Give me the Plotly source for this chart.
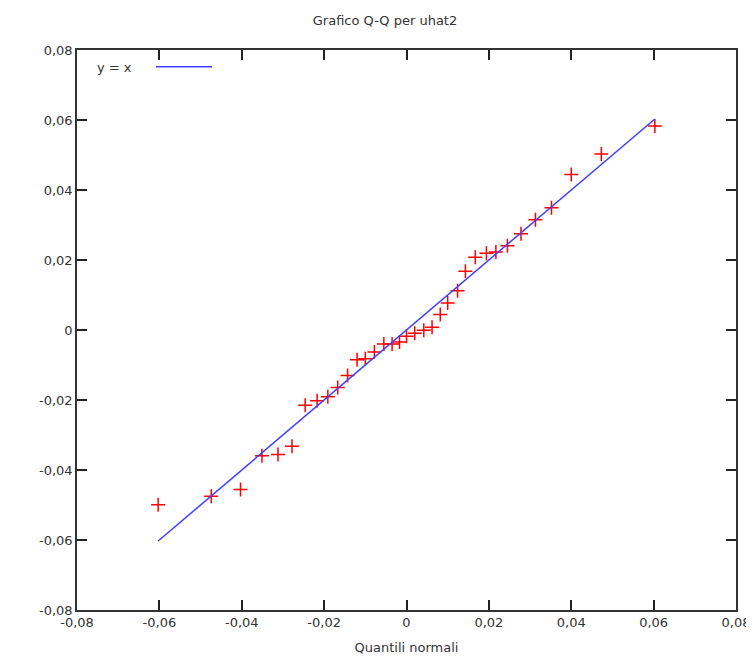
import plotly.graph_objects as go

# Normal quantiles (x) and sorted residual quantiles of uhat2 (y)
normal_quantiles = [
    -0.0603, -0.0474, -0.0403, -0.0351, -0.0312, -0.0278, -0.0246, -0.0217, -0.0191,
    -0.0167, -0.0143, -0.0120, -0.0100, -0.0078, -0.0055, -0.0035, -0.0017, 0.0,
    0.0020, 0.0042, 0.0062, 0.0082, 0.0100, 0.0124, 0.0143, 0.0167, 0.0194, 0.0217,
    0.0245, 0.0278, 0.0313, 0.0352, 0.0400, 0.0473, 0.0603,
]
uhat2_quantiles = [
    -0.0499, -0.0475, -0.0456, -0.0359, -0.0356, -0.0332, -0.0215, -0.0202, -0.0191,
    -0.0164, -0.0130, -0.0085, -0.0082, -0.0063, -0.0040, -0.0040, -0.0034, -0.0018,
    -0.0009, -0.0001, 0.0008, 0.0044, 0.0077, 0.0112, 0.0168, 0.0208, 0.0219, 0.0223,
    0.0241, 0.0275, 0.0315, 0.0349, 0.0444, 0.0503, 0.0583,
]
tick_vals = [-0.08, -0.06, -0.04, -0.02, 0.0, 0.02, 0.04, 0.06, 0.08]
tick_text = ["-0,08", "-0,06", "-0,04", "-0,02", "0", "0,02", "0,04", "0,06", "0,08"]

line_x = [min(normal_quantiles), max(normal_quantiles)]

FONT = "DejaVu Sans"
TXT = "#333333"
FRAME = "#333333"

fig = go.Figure()
fig.add_trace(go.Scatter(
    x=normal_quantiles, y=uhat2_quantiles, mode="markers",
    marker=dict(symbol="cross-thin", size=10, line=dict(color="#ff0000", width=1.5)),
    showlegend=False, hoverinfo="x+y",
))
fig.add_trace(go.Scatter(
    x=line_x, y=line_x, mode="lines",
    line=dict(color="#3f3fff", width=1.5), showlegend=False, name="y = x",
))

axis_common = dict(
    range=[-0.08, 0.08], tickvals=tick_vals, ticktext=tick_text, automargin=False,
    showgrid=False, zeroline=False, showline=True, linecolor=FRAME, linewidth=1.5,
    mirror="allticks", ticks="inside", ticklen=10, tickcolor="#222222", tickwidth=2,
    tickfont=dict(family=FONT, size=13, color=TXT),
)

fig.update_layout(
    width=754, height=660,
    margin=dict(l=69, r=26, t=42, b=58),
    paper_bgcolor="white", plot_bgcolor="white",
    font=dict(family=FONT, size=13, color=TXT),
    title=dict(text="Grafico Q-Q per uhat2", x=0.5, xanchor="center",
               y=1 - 12 / 660, yanchor="middle",
               font=dict(family=FONT, size=13, color=TXT)),
    xaxis=dict(**axis_common,
               title=dict(text="Quantili normali", font=dict(family=FONT, size=13, color=TXT),
                          standoff=14)),
    yaxis=dict(**axis_common),
    showlegend=False,
)

# Legend, gnuplot style: text followed by line sample
fig.add_annotation(xref="paper", yref="paper", x=0.028, y=0.968, xanchor="left",
                   yanchor="middle", text="y = x", showarrow=False,
                   font=dict(family=FONT, size=13, color=TXT))
fig.add_shape(type="line", xref="paper", yref="paper", x0=0.12, x1=0.205,
              y0=0.97, y1=0.97, line=dict(color="#3f3fff", width=1.5))

fig.write_html("out.html")
